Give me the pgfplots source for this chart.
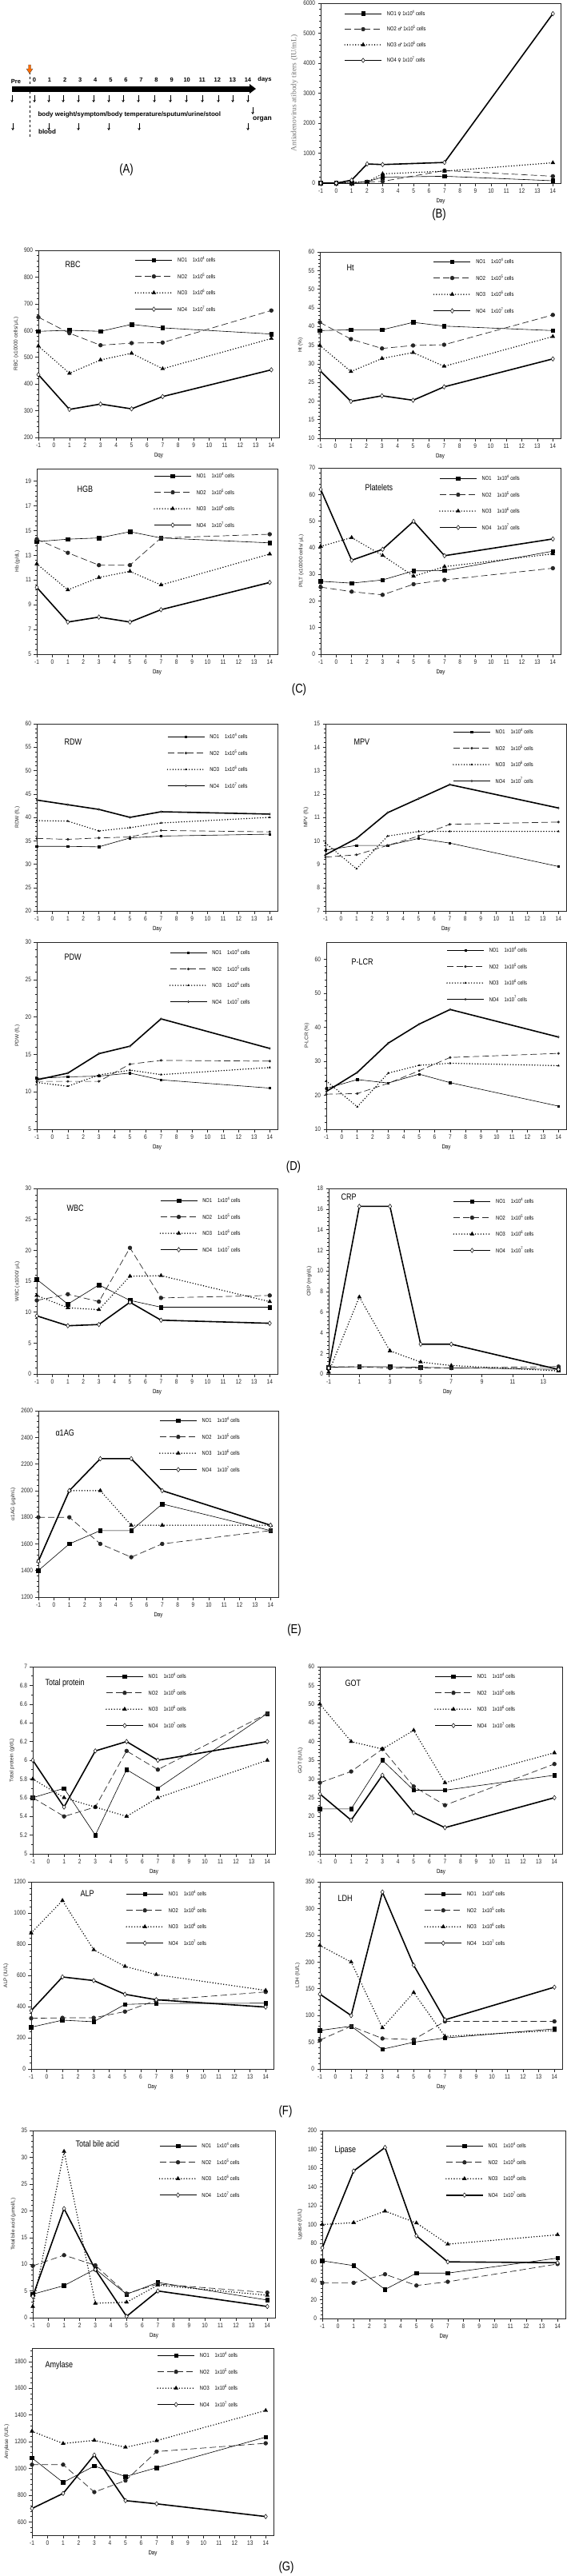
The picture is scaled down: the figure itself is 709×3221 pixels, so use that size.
\documentclass[border=0pt]{standalone}
\usepackage{fontspec}
\setmainfont{Liberation Sans}
\newfontfamily\nar[FakeStretch=0.82]{Liberation Sans}
\newfontfamily\serifB{Liberation Serif}
\newfontfamily\sym{DejaVu Sans}
\usepackage{pgfplots}
\pgfplotsset{compat=1.18}
\usetikzlibrary{arrows.meta}

\newcommand\leg[2]{NO#1\hspace{7pt}1x10\textsuperscript{#2} cells}
\newcommand\legB[3]{NO#1 {\sym\fontsize{6}{7}\selectfont #2} 1x10\textsuperscript{#3} cells}

\tikzset{ttl/.style={anchor=west, font=\nar\fontsize{11}{12}\selectfont}}
\pgfplotsset{
  pnl/.style={scale only axis, anchor=north west, xmin=-1, xmax=14.5, xtick={-1,0,...,14},
    axis line style={line width=0.7pt, black!85}, tick style={line width=0.5pt, black!85},
    tick align=outside, xtick pos=bottom, ytick pos=left,
    major tick length=3.5pt, minor tick length=2pt, minor y tick num=4,
    /pgf/number format/assume math mode=true, /pgf/number format/1000 sep={},
    scaled ticks=false, clip=false,
    tick label style={font=\nar\fontsize{8}{9}\selectfont, text=black!85},
    ylabel style={font=\fontsize{6.5}{8}\selectfont, text=black!85},
    xlabel style={font=\nar\fontsize{7.5}{8}\selectfont},
    xlabel={Day},
    legend style={draw=none, fill=none, anchor=north west, font=\nar\fontsize{7}{8}\selectfont,
      inner sep=0pt, row sep=10.5pt, nodes={inner sep=1pt},
      /tikz/every odd column/.append style={column sep=5pt}},
    legend cell align=left,
    legend image code/.code={\draw[mark repeat=2,mark phase=2] plot coordinates {(0pt,0pt) (23pt,0pt) (46pt,0pt)};},
  },
  s1/.style={black, line width=0.6pt, mark=square*, mark size=2.3pt, mark options={solid}},
  s2/.style={black!85, line width=0.7pt, dash pattern=on 8pt off 4pt, mark=*, mark size=2.3pt, mark options={solid}},
  s3/.style={black, line width=1.6pt, dash pattern=on 0pt off 3.4pt, line cap=round, mark=triangle*, mark size=2.8pt, mark options={solid, line width=0.4pt}},
  s4/.style={black, line width=1.6pt, mark=diamond*, mark size=2.8pt, mark options={solid, fill=white, line width=0.5pt}},
  dsm/.style={mark size=1.2pt},
}

\begin{document}
\begin{tikzpicture}
\path[use as bounding box] (0pt,0pt) rectangle (709pt,-3221pt);

% ---------------- (A) timeline
\begin{scope}[x=1pt,y=-1pt, font=\bfseries\fontsize{7.5}{9}\selectfont]
  \fill (15,107.5) rectangle (313,114.5);
  \fill (312,105) -- (320,111) -- (312,117) -- cycle;
  \node at (20,102) {Pre};
  \foreach \d in {0,...,14} \node at ({43+19.07*\d},100) {\d};
  \node at (331,100) {days};
  \draw[dashed, line width=0.6pt] (37,90) -- (37,173);
  \filldraw[fill=orange!85!red, draw=black!70, line width=0.4pt] (35.5,81)--(38.5,81)--(38.5,86)--(41,86)--(37,92)--(33,86)--(35.5,86)--cycle;
  \foreach \x in {15,43,61,79,98,117,136,154,173,193,213,233,253,273,291,310}
    \draw[-{Stealth[length=3pt,width=3.5pt]}, line width=0.7pt] (\x,119) -- (\x,128);
  \node[anchor=west, font=\bfseries\fontsize{8}{9}\selectfont] at (44,143) {body weight/symptom/body temperature/sputum/urine/stool};
  \draw[-{Stealth[length=3pt,width=3.5pt]}, line width=0.7pt] (316,134) -- (316,143);
  \node[font=\bfseries\fontsize{8.5}{9}\selectfont] at (328,149) {organ};
  \foreach \x in {16,61,98,136,174,310}
    \draw[-{Stealth[length=3pt,width=3.5pt]}, line width=0.7pt] (\x,154) -- (\x,163);
  \node[font=\bfseries\fontsize{8}{9}\selectfont] at (59,165) {blood};
\end{scope}

% ---------------- (B)
\begin{axis}[pnl, at={(401pt,-4pt)}, width=300pt, height=225pt, ymin=0, ymax=6000, ytick distance=1000,
  ylabel={Antiadenovirus atibody titers (IU/mL)}, ylabel style={font=\serifB\fontsize{9.5}{11}\selectfont, text=black!55},
  legend style={at={(0.097,0.965)}, row sep=9.5pt}]
\addplot[s1] coordinates {(-1,0)(0,0)(1,0)(2,50)(3,200)(7,230)(14,80)}; \addlegendentry{\legB{1}{♀}{4}}
\addplot[s2] coordinates {(-1,0)(0,0)(1,20)(2,40)(3,60)(7,420)(14,230)}; \addlegendentry{\legB{2}{♂}{5}}
\addplot[s3] coordinates {(-1,0)(0,0)(1,30)(2,40)(3,310)(7,400)(14,680)}; \addlegendentry{\legB{3}{♂}{6}}
\addplot[s4] coordinates {(-1,0)(0,0)(1,100)(2,640)(3,620)(7,690)(14,5650)}; \addlegendentry{\legB{4}{♀}{7}}
\end{axis}

% ---------------- (C) RBC
\begin{axis}[pnl, at={(48pt,-313pt)}, width=301pt, height=234pt, ymin=200, ymax=900, ytick distance=100,
  ylabel={RBC (x10000 cells/ μL)}, xlabel={Dqy}, legend style={at={(0.40,0.97)}}]
\addplot[s1] coordinates {(-1,597)(1,601)(3,597)(5,623)(7,610)(14,587)}; \addlegendentry{\leg{1}{4}}
\addplot[s2] coordinates {(-1,650)(1,590)(3,545)(5,553)(7,555)(14,675)}; \addlegendentry{\leg{2}{5}}
\addplot[s3] coordinates {(-1,542)(1,440)(3,490)(5,515)(7,457)(14,570)}; \addlegendentry{\leg{3}{6}}
\addplot[s4] coordinates {(-1,435)(1,305)(3,325)(5,307)(7,353)(14,453)}; \addlegendentry{\leg{4}{7}}
\node[ttl, xshift=30pt, yshift=-18pt] at (rel axis cs:0,1) {RBC};
\end{axis}

% Ht
\begin{axis}[pnl, at={(400pt,-315pt)}, width=301pt, height=233pt, ymin=10, ymax=60, ytick distance=5,
  ylabel={Ht (\%)}, legend style={at={(0.47,0.97)}}]
\addplot[s1] coordinates {(-1,38.9)(1,39.1)(3,39.1)(5,41.1)(7,40.1)(14,38.9)}; \addlegendentry{\leg{1}{4}}
\addplot[s2] coordinates {(-1,41.1)(1,36.6)(3,34.1)(5,34.9)(7,35.1)(14,43.1)}; \addlegendentry{\leg{2}{5}}
\addplot[s3] coordinates {(-1,34.9)(1,27.9)(3,31.4)(5,33.0)(7,29.3)(14,37.3)}; \addlegendentry{\leg{3}{6}}
\addplot[s4] coordinates {(-1,28.2)(1,19.9)(3,21.4)(5,20.2)(7,23.8)(14,31.3)}; \addlegendentry{\leg{4}{7}}
\node[ttl, xshift=30pt, yshift=-20pt] at (rel axis cs:0,1) {Ht};
\end{axis}

% HGB
\begin{axis}[pnl, at={(46pt,-586pt)}, width=301pt, height=232pt, ymin=5, ymax=20, ytick={5,7,...,19},
  ylabel={Hb (g/dL)}, legend style={at={(0.485,0.983)}}]
\addplot[s1] coordinates {(-1,14.1)(1,14.3)(3,14.4)(5,14.9)(7,14.4)(14,14.0)}; \addlegendentry{\leg{1}{4}}
\addplot[s2] coordinates {(-1,14.3)(1,13.2)(3,12.2)(5,12.2)(7,14.4)(14,14.7)}; \addlegendentry{\leg{2}{5}}
\addplot[s3] coordinates {(-1,12.3)(1,10.2)(3,11.2)(5,11.7)(7,10.6)(14,13.1)}; \addlegendentry{\leg{3}{6}}
\addplot[s4] coordinates {(-1,10.4)(1,7.6)(3,8.0)(5,7.6)(7,8.6)(14,10.8)}; \addlegendentry{\leg{4}{7}}
\node[ttl, xshift=47pt, yshift=-26pt] at (rel axis cs:0,1) {HGB};
\end{axis}

% Platelets
\begin{axis}[pnl, at={(401pt,-585pt)}, width=300pt, height=233pt, ymin=0, ymax=70, ytick distance=10,
  ylabel={PILT (x10000 cells/ μL)}, legend style={at={(0.493,0.966)}}]
\addplot[s1] coordinates {(-1,27.4)(1,26.7)(3,27.9)(5,31.3)(7,31.4)(14,38.7)}; \addlegendentry{\leg{1}{4}}
\addplot[s2] coordinates {(-1,25.2)(1,23.5)(3,22.3)(5,26.3)(7,27.9)(14,32.3)}; \addlegendentry{\leg{2}{5}}
\addplot[s3] coordinates {(-1,40.5)(1,43.8)(3,37.1)(5,29.3)(7,32.9)(14,37.7)}; \addlegendentry{\leg{3}{6}}
\addplot[s4] coordinates {(-1,61.9)(1,35.3)(3,39.4)(5,49.9)(7,37.0)(14,43.3)}; \addlegendentry{\leg{4}{7}}
\node[ttl, xshift=52pt, yshift=-25pt] at (rel axis cs:0,1) {Platelets};
\end{axis}

% ---------------- (D) RDW
\begin{axis}[pnl, at={(46pt,-905pt)}, width=301pt, height=234pt, ymin=20, ymax=60, ytick distance=5,
  ylabel={RDW (fL)}, legend style={at={(0.54,0.953)}}]
\addplot[s1,dsm] coordinates {(-1,33.8)(1,33.8)(3,33.7)(5,35.6)(7,36.0)(14,36.4)}; \addlegendentry{\leg{1}{4}}
\addplot[s2,dsm] coordinates {(-1,35.5)(1,35.3)(3,35.6)(5,35.8)(7,37.2)(14,36.9)}; \addlegendentry{\leg{2}{5}}
\addplot[s3,dsm] coordinates {(-1,39.3)(1,39.2)(3,37.1)(5,37.8)(7,38.8)(14,40.0)}; \addlegendentry{\leg{3}{6}}
\addplot[s4,dsm] coordinates {(-1,43.7)(1,42.7)(3,41.7)(5,40.0)(7,41.2)(14,40.7)}; \addlegendentry{\leg{4}{7}}
\node[ttl, xshift=31pt, yshift=-23pt] at (rel axis cs:0,1) {RDW};
\end{axis}

% MPV
\begin{axis}[pnl, at={(407pt,-905pt)}, width=301pt, height=234pt, ymin=7, ymax=15, ytick distance=1,
  ylabel={MPV (fL)}, legend style={at={(0.528,0.979)}}]
\addplot[s1,dsm] coordinates {(-1,9.6)(1,9.8)(3,9.8)(5,10.1)(7,9.9)(14,8.9)}; \addlegendentry{\leg{1}{4}}
\addplot[s2,dsm] coordinates {(-1,9.3)(1,9.4)(3,9.8)(5,10.2)(7,10.7)(14,10.8)}; \addlegendentry{\leg{2}{5}}
\addplot[s3,dsm] coordinates {(-1,9.9)(1,8.8)(3,10.2)(5,10.4)(7,10.4)(14,10.4)}; \addlegendentry{\leg{3}{6}}
\addplot[s4,dsm] coordinates {(-1,9.4)(1,10.1)(3,11.2)(5,11.8)(7,12.4)(14,11.4)}; \addlegendentry{\leg{4}{7}}
\node[ttl, xshift=32pt, yshift=-23pt] at (rel axis cs:0,1) {MPV};
\end{axis}

% PDW
\begin{axis}[pnl, at={(46pt,-1178pt)}, width=301pt, height=234pt, ymin=5, ymax=30, ytick distance=5,
  ylabel={PDW (fL)}, legend style={at={(0.55,0.966)}}]
\addplot[s1,dsm] coordinates {(-1,11.8)(1,12.0)(3,12.1)(5,12.5)(7,11.6)(14,10.5)}; \addlegendentry{\leg{1}{4}}
\addplot[s2,dsm] coordinates {(-1,11.4)(1,11.4)(3,11.4)(5,13.7)(7,14.2)(14,14.1)}; \addlegendentry{\leg{2}{5}}
\addplot[s3,dsm] coordinates {(-1,11.25)(1,10.75)(3,12.25)(5,12.9)(7,12.3)(14,13.25)}; \addlegendentry{\leg{3}{6}}
\addplot[s4,dsm] coordinates {(-1,11.6)(1,12.5)(3,15.1)(5,16.1)(7,19.75)(14,15.8)}; \addlegendentry{\leg{4}{7}}
\node[ttl, xshift=31pt, yshift=-19pt] at (rel axis cs:0,1) {PDW};
\end{axis}

% P-LCR
\begin{axis}[pnl, at={(408pt,-1178pt)}, width=300pt, height=234pt, ymin=10, ymax=65, ytick={10,20,...,60},
  ylabel={P-LCR (\%)}, legend style={at={(0.50,0.979)}}]
\addplot[s1,dsm] coordinates {(-1,22.0)(1,24.6)(3,23.6)(5,26.2)(7,23.7)(14,16.8)}; \addlegendentry{\leg{1}{4}}
\addplot[s2,dsm] coordinates {(-1,20.3)(1,20.5)(3,23.5)(5,27.2)(7,31.1)(14,32.3)}; \addlegendentry{\leg{2}{5}}
\addplot[s3,dsm] coordinates {(-1,24.2)(1,16.6)(3,26.5)(5,28.8)(7,29.4)(14,28.7)}; \addlegendentry{\leg{3}{6}}
\addplot[s4,dsm] coordinates {(-1,21.1)(1,26.7)(3,35.3)(5,40.9)(7,45.2)(14,37.1)}; \addlegendentry{\leg{4}{7}}
\node[ttl, xshift=28pt, yshift=-25pt] at (rel axis cs:0,1) {P-LCR};
\end{axis}

% ---------------- (E) WBC
\begin{axis}[pnl, at={(46pt,-1486pt)}, width=301pt, height=232pt, ymin=0, ymax=30, ytick distance=5,
  ylabel={WBC (x1000/ μL)}, legend style={at={(0.51,0.957)}}]
\addplot[s1] coordinates {(-1,15.3)(1,11.3)(3,14.4)(5,11.9)(7,10.8)(14,10.8)}; \addlegendentry{\leg{1}{4}}
\addplot[s2] coordinates {(-1,11.9)(1,12.9)(3,11.7)(5,20.4)(7,12.3)(14,12.7)}; \addlegendentry{\leg{2}{5}}
\addplot[s3] coordinates {(-1,12.7)(1,10.7)(3,10.4)(5,15.8)(7,15.9)(14,11.7)}; \addlegendentry{\leg{3}{6}}
\addplot[s4] coordinates {(-1,9.4)(1,7.8)(3,8.0)(5,11.6)(7,8.7)(14,8.2)}; \addlegendentry{\leg{4}{7}}
\node[ttl, xshift=34pt, yshift=-25pt] at (rel axis cs:0,1) {WBC};
\end{axis}

% CRP
\begin{axis}[pnl, at={(411pt,-1486pt)}, width=297pt, height=232pt, ymin=0, ymax=18, ytick distance=2,
  xtick={-1,1,...,13}, ylabel={CRP (mg/dL)}, legend style={at={(0.523,0.953)}}]
\addplot[s1] coordinates {(-1,0.65)(1,0.7)(3,0.7)(5,0.65)(7,0.6)(14,0.45)}; \addlegendentry{\leg{1}{4}}
\addplot[s2] coordinates {(-1,0.7)(1,0.7)(3,0.57)(5,0.57)(7,0.57)(14,0.72)}; \addlegendentry{\leg{2}{5}}
\addplot[s3] coordinates {(-1,0.18)(1,7.47)(3,2.24)(5,1.16)(7,0.82)(14,0.3)}; \addlegendentry{\leg{3}{6}}
\addplot[s4] coordinates {(-1,0.57)(1,16.26)(3,16.26)(5,2.89)(7,2.89)(14,0.44)}; \addlegendentry{\leg{4}{7}}
\node[ttl, xshift=12pt, yshift=-11pt] at (rel axis cs:0,1) {CRP};
\end{axis}

% alpha1AG
\begin{axis}[pnl, at={(48pt,-1764pt)}, width=300pt, height=233pt, ymin=1200, ymax=2600, ytick distance=200,
  ylabel={α1AG (μg/mL)}, legend style={at={(0.503,0.97)}}]
\addplot[s1] coordinates {(-1,1400)(1,1600)(3,1700)(5,1700)(7,1900)(14,1700)}; \addlegendentry{\leg{1}{4}}
\addplot[s2] coordinates {(-1,1800)(1,1800)(3,1600)(5,1500)(7,1600)(14,1700)}; \addlegendentry{\leg{2}{5}}
\addplot[s3] coordinates {(-1,1470)(1,2000)(3,2000)(5,1740)(7,1740)(14,1740)}; \addlegendentry{\leg{3}{6}}
\addplot[s4] coordinates {(-1,1470)(1,2000)(3,2240)(5,2240)(7,2000)(14,1740)}; \addlegendentry{\leg{4}{7}}
\node[ttl, xshift=18pt, yshift=-28pt] at (rel axis cs:0,1) {α1AG};
\end{axis}

% ---------------- (F) Total protein
\begin{axis}[pnl, at={(41pt,-2084pt)}, width=303pt, height=234pt, ymin=5, ymax=7,
  ytick={5,5.2,5.4,5.6,5.8,6,6.2,6.4,6.6,6.8,7}, minor y tick num=1,
  ylabel={Total protein (g/dL)}, legend style={at={(0.30,0.97)}}]
\addplot[s1] coordinates {(-1,5.6)(1,5.7)(3,5.2)(5,5.9)(7,5.7)(14,6.5)}; \addlegendentry{\leg{1}{4}}
\addplot[s2] coordinates {(-1,5.6)(1,5.4)(3,5.5)(5,6.1)(7,5.9)(14,6.5)}; \addlegendentry{\leg{2}{5}}
\addplot[s3] coordinates {(-1,5.8)(1,5.6)(3,5.5)(5,5.4)(7,5.6)(14,6.0)}; \addlegendentry{\leg{3}{6}}
\addplot[s4] coordinates {(-1,6.0)(1,5.5)(3,6.1)(5,6.2)(7,6.0)(14,6.2)}; \addlegendentry{\leg{4}{7}}
\node[ttl, xshift=12pt, yshift=-21pt] at (rel axis cs:0,1) {Total protein};
\end{axis}

% GOT
\begin{axis}[pnl, at={(400pt,-2084pt)}, width=303pt, height=234pt, ymin=10, ymax=60, ytick distance=5,
  ylabel={GOT (IU/L)}, legend style={at={(0.472,0.97)}}]
\addplot[s1] coordinates {(-1,22)(1,22)(3,35)(5,27)(7,27)(14,31)}; \addlegendentry{\leg{1}{4}}
\addplot[s2] coordinates {(-1,29)(1,32)(3,38)(5,28)(7,23)(14,34)}; \addlegendentry{\leg{2}{5}}
\addplot[s3] coordinates {(-1,50)(1,40)(3,38)(5,43)(7,29)(14,37)}; \addlegendentry{\leg{3}{6}}
\addplot[s4] coordinates {(-1,26)(1,19)(3,31)(5,21)(7,17)(14,25)}; \addlegendentry{\leg{4}{7}}
\node[ttl, xshift=28pt, yshift=-21pt] at (rel axis cs:0,1) {GOT};
\end{axis}

% ALP
\begin{axis}[pnl, at={(39pt,-2353pt)}, width=303pt, height=234pt, ymin=0, ymax=1200, ytick distance=200,
  ylabel={ALP (IU/L)}, legend style={at={(0.39,0.957)}}]
\addplot[s1] coordinates {(-1,268)(1,313)(3,303)(5,414)(7,420)(14,422)}; \addlegendentry{\leg{1}{4}}
\addplot[s2] coordinates {(-1,325)(1,328)(3,328)(5,368)(7,440)(14,494)}; \addlegendentry{\leg{2}{5}}
\addplot[s3] coordinates {(-1,872)(1,1080)(3,764)(5,658)(7,605)(14,504)}; \addlegendentry{\leg{3}{6}}
\addplot[s4] coordinates {(-1,374)(1,590)(3,567)(5,479)(7,444)(14,397)}; \addlegendentry{\leg{4}{7}}
\node[ttl, xshift=58pt, yshift=-15pt] at (rel axis cs:0,1) {ALP};
\end{axis}

% LDH
\begin{axis}[pnl, at={(400pt,-2353pt)}, width=303pt, height=234pt, ymin=0, ymax=350, ytick distance=50,
  ylabel={LDH (IU/L)}, legend style={at={(0.43,0.957)}}]
\addplot[s1] coordinates {(-1,72)(1,80)(3,37)(5,50)(7,58)(14,75)}; \addlegendentry{\leg{1}{4}}
\addplot[s2] coordinates {(-1,54)(1,80)(3,57)(5,55)(7,89)(14,89)}; \addlegendentry{\leg{2}{5}}
\addplot[s3] coordinates {(-1,231)(1,200)(3,77)(5,143)(7,61)(14,72)}; \addlegendentry{\leg{3}{6}}
\addplot[s4] coordinates {(-1,140)(1,100)(3,331)(5,194)(7,92)(14,153)}; \addlegendentry{\leg{4}{7}}
\node[ttl, xshift=19pt, yshift=-21pt] at (rel axis cs:0,1) {LDH};
\end{axis}

% ---------------- (G) Total bile acid
\begin{axis}[pnl, at={(41pt,-2664pt)}, width=303pt, height=234pt, ymin=0, ymax=35, ytick distance=5,
  ylabel={Total bile acid (μmol/L)}, legend style={at={(0.52,0.94)}}]
\addplot[s1] coordinates {(-1,4.4)(1,6.0)(3,9.1)(5,4.4)(7,6.6)(14,3.3)}; \addlegendentry{\leg{1}{4}}
\addplot[s2] coordinates {(-1,9.7)(1,11.7)(3,9.8)(5,4.5)(7,6.3)(14,4.7)}; \addlegendentry{\leg{2}{5}}
\addplot[s3] coordinates {(-1,2.1)(1,31.1)(3,2.7)(5,2.9)(7,6.1)(14,4.2)}; \addlegendentry{\leg{3}{6}}
\addplot[s4] coordinates {(-1,4.0)(1,20.4)(3,9.0)(5,0.25)(7,5.0)(14,2.1)}; \addlegendentry{\leg{4}{7}}
\node[ttl, xshift=50pt, yshift=-17pt] at (rel axis cs:0,1) {Total bile acid};
\end{axis}

% Lipase
\begin{axis}[pnl, at={(403pt,-2664pt)}, width=304pt, height=235pt, ymin=0, ymax=200, ytick distance=20,
  ylabel={Lypase (IU/L)}, legend style={at={(0.506,0.94)}}]
\addplot[s1] coordinates {(-1,61.4)(1,56.3)(3,30.9)(5,48.3)(7,48.3)(14,64.3)}; \addlegendentry{\leg{1}{4}}
\addplot[s2] coordinates {(-1,38)(1,38)(3,47.1)(5,35.1)(7,39.1)(14,58)}; \addlegendentry{\leg{2}{5}}
\addplot[s3] coordinates {(-1,100)(1,102)(3,114.3)(5,101.7)(7,79.1)(14,89.1)}; \addlegendentry{\leg{3}{6}}
\addplot[s4] coordinates {(-1,75.1)(1,157)(3,182)(5,88)(7,60.3)(14,59.4)}; \addlegendentry{\leg{4}{7}}
\node[ttl, xshift=12pt, yshift=-25pt] at (rel axis cs:0,1) {Lipase};
\end{axis}

% Amylase
\begin{axis}[pnl, at={(40pt,-2936pt)}, width=302pt, height=234pt, ymin=500, ymax=1900, ytick distance=200,
  ylabel={Amylase (IU/L)}, legend style={at={(0.517,0.983)}}]
\addplot[s1] coordinates {(-1,1078)(1,895)(3,1018)(5,939)(7,1005)(14,1234)}; \addlegendentry{\leg{1}{4}}
\addplot[s2] coordinates {(-1,1028)(1,1028)(3,823)(5,909)(7,1126)(14,1188)}; \addlegendentry{\leg{2}{5}}
\addplot[s3] coordinates {(-1,1278)(1,1186)(3,1210)(5,1158)(7,1208)(14,1433)}; \addlegendentry{\leg{3}{6}}
\addplot[s4] coordinates {(-1,700)(1,813)(3,1100)(5,759)(7,735)(14,640)}; \addlegendentry{\leg{4}{7}}
\node[ttl, xshift=13pt, yshift=-22pt] at (rel axis cs:0,1) {Amylase};
\end{axis}

% ---------------- group labels
\begin{scope}[font=\nar\fontsize{16}{18}\selectfont]
\node at (158pt,-212pt) {(A)};
\node at (549pt,-268pt) {(B)};
\node at (374pt,-862pt) {(C)};
\node at (367pt,-1459pt) {(D)};
\node at (368pt,-2038pt) {(E)};
\node at (357pt,-2640pt) {(F)};
\node at (358pt,-3210pt) {(G)};
\end{scope}
\end{tikzpicture}
\end{document}
